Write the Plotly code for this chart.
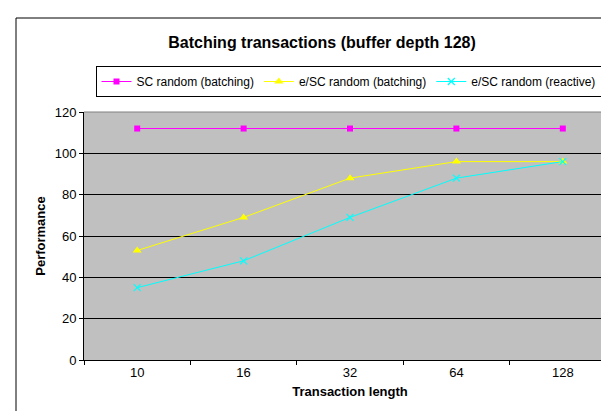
import plotly.graph_objects as go

categories = ["10", "16", "32", "64", "128"]
sc_batching = [112, 112, 112, 112, 112]
esc_batching = [53, 69, 88, 96, 96]
esc_reactive = [35, 48, 69, 88, 96]
y_ticks = [0, 20, 40, 60, 80, 100, 120]

FONT = "Liberation Sans, Arial, sans-serif"

fig = go.Figure()
fig.add_trace(go.Scatter(
    x=categories, y=sc_batching, name="SC random (batching)", mode="lines+markers",
    line=dict(color="#FF00FF", width=1),
    marker=dict(symbol="square", size=6, color="#FF00FF")))
fig.add_trace(go.Scatter(
    x=categories, y=esc_batching, name="e/SC random (batching)", mode="lines+markers",
    line=dict(color="#FFFF00", width=1),
    marker=dict(symbol="triangle-up", size=8, color="#FFFF00")))
fig.add_trace(go.Scatter(
    x=categories, y=esc_reactive, name="e/SC random (reactive)", mode="lines+markers",
    line=dict(color="#00FFFF", width=1),
    marker=dict(symbol="x-thin", size=7, color="#00FFFF",
                line=dict(color="#00FFFF", width=1.2))))

fig.update_layout(
    width=609, height=411,
    margin=dict(l=76, r=1, t=104, b=59),
    paper_bgcolor="white", plot_bgcolor="#C0C0C0",
    font=dict(family=FONT, size=13, color="black"),
    title=dict(text="<b>Batching transactions (buffer depth 128)</b>",
               x=314 / 609, xanchor="center", y=1 - 34 / 411, yanchor="middle",
               font=dict(size=16, family=FONT, color="black")),
    legend=dict(orientation="h", xref="container", yref="container",
                x=340.5 / 609, xanchor="center", y=1 - 58 / 411, yanchor="top",
                bgcolor="white", bordercolor="black", borderwidth=1,
                font=dict(size=12, family=FONT), itemwidth=30,
                tracegroupgap=0),
    showlegend=True,
)
fig.update_xaxes(
    type="category", range=[-0.5, 4.5], tickson="boundaries",
    ticks="outside", ticklen=4, tickcolor="black", tickwidth=1,
    showline=True, linecolor="black", linewidth=1, showgrid=False,
    tickfont=dict(size=13),
    title=dict(text="<b>Transaction length</b>", font=dict(size=13), standoff=8),
)
fig.update_yaxes(
    range=[0, 120], tickvals=y_ticks,
    ticks="outside", ticklen=4, tickcolor="black", tickwidth=1,
    showline=True, linecolor="black", linewidth=1,
    showgrid=True, gridcolor="black", gridwidth=1, zeroline=False,
    tickfont=dict(size=13),
    title=dict(text="<b>Performance</b>", font=dict(size=13), standoff=6),
)

# plot-area top/right border (gray) and outer chart border
fig.add_shape(type="line", xref="paper", yref="paper", x0=0, x1=1, y0=1, y1=1,
              line=dict(color="#808080", width=1), layer="above")
fig.add_shape(type="line", xref="paper", yref="paper", x0=1, x1=1, y0=0, y1=1,
              line=dict(color="#808080", width=1), layer="above")
fig.add_shape(type="rect", xref="paper", yref="paper",
              x0=(8 - 76) / 532, x1=1.2, y0=-0.4, y1=(352 - 10) / 248,
              line=dict(color="black", width=1), fillcolor="rgba(0,0,0,0)", layer="below")

fig.write_html("out.html")
